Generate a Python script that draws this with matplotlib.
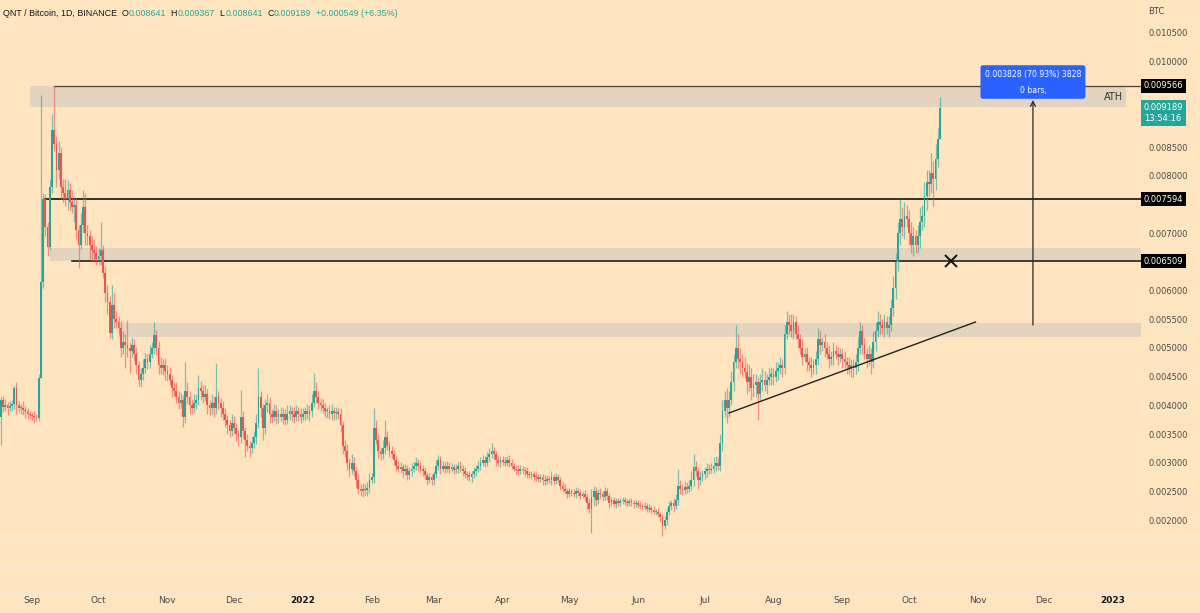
import numpy as np
import pandas as pd
import matplotlib
matplotlib.use("Agg")
import matplotlib.pyplot as plt
import matplotlib.dates as mdates
from matplotlib.lines import Line2D
from matplotlib.ticker import FixedLocator, FuncFormatter

plt.rcParams['font.family'] = ['DejaVu Sans']

# ---------------- data (prices in 1e-6 BTC) ----------------
start_date = '2021-08-18'
open_first = 3790

close_aug21 = [4090, 3980, 4000, 3960, 3990, 4020, 4300, 4000, 3950, 3960, 3920, 3900, 3850, 3830]
close_sep21 = [3820, 3800, 3780, 4480, 6150, 7600, 7100, 6760, 7800, 8800, 8550, 8100, 8400, 7800, 7700,
               7600, 7750, 7550, 7450, 7500, 7050, 6800, 7150, 7450, 7000, 6950, 6800, 6700, 6650, 6550]
close_oct21 = [6600, 6700, 6300, 5950, 5800, 5260, 5750, 5500, 5450, 5350, 5000, 5100, 5050, 5000, 4950,
               5050, 4900, 4700, 4440, 4550, 4650, 4800, 4750, 4900, 5000, 5220, 5000, 4700, 4650, 4700, 4600]
close_nov21 = [4550, 4450, 4300, 4250, 4150, 4050, 4100, 3800, 4250, 4150, 4000, 3950, 4050, 4100, 4300,
               4250, 4150, 4200, 4000, 3950, 4050, 3950, 4150, 4050, 3950, 3850, 3750, 3650, 3550, 3700]
close_dec21 = [3600, 3500, 3450, 3800, 3550, 3400, 3300, 3250, 3350, 3450, 3700, 4150, 3950, 3600, 4000,
               4050, 3850, 3800, 3900, 3800, 3850, 3800, 3850, 3750, 3850, 3900, 3850, 3800, 3900, 3850, 3800]
close_jan22 = [3850, 3900, 3850, 3900, 4050, 4250, 4150, 4050, 4000, 3950, 3900, 3900, 3850, 3900, 3870,
               3880, 3850, 3650, 3300, 3200, 3000, 2900, 3000, 2850, 2700, 2550, 2500, 2550, 2520, 2560, 2700]
close_feb22 = [2750, 3600, 3400, 3200, 3150, 3250, 3450, 3300, 3200, 3150, 3050, 2950, 2900, 2920, 2850,
               2900, 2780, 2850, 2900, 2950, 3000, 2950, 2900, 2850, 2780, 2700, 2750, 2700]
close_mar22 = [2800, 2950, 3050, 2900, 2950, 2900, 2950, 2900, 2920, 2880, 2900, 2950, 2900, 2850, 2800,
               2780, 2750, 2800, 2850, 2900, 2950, 3000, 3050, 3000, 3100, 3150, 3200, 3150, 3050, 3000, 3050]
close_apr22 = [3020, 3000, 3050, 3000, 2950, 2900, 2880, 2850, 2900, 2870, 2850, 2800, 2780, 2800, 2760,
               2750, 2720, 2750, 2700, 2680, 2720, 2700, 2750, 2680, 2750, 2700, 2600, 2550, 2500, 2450]
close_may22 = [2500, 2480, 2450, 2500, 2470, 2430, 2450, 2400, 2300, 2200, 2400, 2500, 2350, 2480, 2450,
               2400, 2500, 2420, 2300, 2350, 2280, 2330, 2300, 2330, 2350, 2320, 2300, 2330, 2300, 2280, 2300]
close_jun22 = [2270, 2250, 2230, 2250, 2200, 2220, 2180, 2150, 2150, 2100, 2050, 1900, 2000, 2150, 2250,
               2300, 2250, 2350, 2600, 2550, 2520, 2580, 2550, 2600, 2700, 2930, 2850, 2700, 2750, 2800]
close_jul22 = [2850, 2900, 2880, 2900, 2950, 3000, 2950, 3350, 3900, 4100, 3950, 4100, 4400, 4750, 5000,
               4800, 4750, 4650, 4580, 4400, 4500, 4300, 4350, 4400, 4200, 4400, 4450, 4350, 4450, 4500, 4550]
close_aug22 = [4500, 4600, 4650, 4700, 4650, 5250, 5450, 5400, 5300, 5450, 5250, 5150, 5000, 4850, 4900,
               4750, 4700, 4650, 4700, 4800, 5150, 5050, 5100, 5000, 4900, 4800, 4850, 4950, 4900, 4850, 4900]
close_sep22 = [4800, 4750, 4700, 4650, 4700, 4650, 4750, 5000, 5300, 5050, 4900, 4800, 4900, 4750, 5100,
               5300, 5450, 5400, 5350, 5450, 5350, 5400, 5700, 6050, 6500, 7000, 7250, 7100, 7300, 7250]
close_oct22 = [7000, 6800, 6950, 6800, 6950, 7200, 7300, 7650, 7900, 7850, 8050, 7950, 8300, 8641, 9189]

hi_aug21 = [60, 80, 120, 60, 90, 70, 40, 100, 80, 60, 120, 70, 50, 60]
hi_sep21 = [60, 80, 50, 60, 3250, 100, 80, 100, 150, 280, 766, 150, 200, 100, 150,
            250, 180, 120, 200, 150, 120, 100, 200, 300, 250, 150, 100, 150, 200, 120]
hi_oct21 = [150, 500, 100, 120, 150, 100, 340, 200, 150, 100, 120, 200, 150, 430, 100,
            150, 100, 120, 80, 100, 150, 120, 100, 150, 100, 230, 100, 120, 150, 100, 120]
hi_nov21 = [100, 120, 80, 100, 150, 100, 120, 80, 500, 150, 100, 120, 150, 100, 230,
            120, 100, 150, 80, 100, 150, 120, 590, 100, 80, 120, 100, 80, 100, 150]
hi_dec21 = [120, 100, 80, 470, 100, 80, 100, 80, 120, 100, 150, 500, 100, 80, 120,
            150, 100, 80, 120, 100, 80, 120, 100, 80, 150, 100, 80, 120, 100, 80, 100]
hi_jan22 = [100, 80, 120, 100, 150, 310, 150, 100, 80, 120, 100, 80, 100, 120, 80,
            100, 80, 100, 80, 100, 120, 80, 150, 100, 80, 100, 80, 100, 80, 100, 120]
hi_feb22 = [80, 350, 150, 100, 80, 150, 300, 100, 80, 100, 80, 60, 80, 100, 60,
            80, 60, 80, 100, 80, 100, 60, 80, 60, 80, 60, 80, 60]
hi_mar22 = [60, 100, 80, 60, 80, 60, 80, 60, 80, 60, 80, 60, 80, 60, 80,
            60, 80, 60, 80, 60, 80, 100, 80, 60, 80, 100, 150, 80, 60, 80, 60]
hi_apr22 = [60, 80, 60, 80, 60, 50, 60, 80, 60, 50, 60, 80, 60, 50, 60,
            80, 60, 50, 60, 80, 60, 50, 100, 60, 80, 60, 50, 60, 80, 60]
hi_may22 = [60, 50, 60, 80, 60, 50, 60, 80, 60, 80, 150, 100, 80, 60, 80,
            60, 80, 60, 50, 60, 50, 60, 50, 60, 50, 60, 50, 60, 50, 60, 50]
hi_jun22 = [50, 60, 50, 60, 50, 60, 50, 60, 50, 60, 50, 60, 80, 60, 80,
            60, 80, 100, 300, 100, 80, 100, 80, 100, 150, 220, 100, 80, 100, 80]
hi_jul22 = [80, 100, 80, 100, 150, 120, 100, 150, 200, 150, 200, 150, 200, 150, 400,
            250, 200, 150, 200, 150, 200, 150, 200, 150, 100, 150, 200, 150, 100, 150, 120]
hi_aug22 = [100, 150, 100, 150, 100, 150, 200, 150, 200, 150, 100, 150, 100, 150, 100,
            120, 100, 150, 100, 150, 200, 150, 100, 150, 100, 150, 100, 150, 100, 120, 100]
hi_sep22 = [100, 150, 100, 150, 100, 100, 150, 200, 150, 100, 150, 100, 150, 100, 200,
            150, 200, 150, 100, 150, 100, 150, 150, 200, 150, 200, 350, 200, 250, 200]
hi_oct22 = [150, 200, 150, 100, 200, 250, 200, 250, 200, 200, 350, 200, 250, 200, 178]

lo_aug21 = [480, 100, 80, 120, 60, 90, 80, 150, 60, 100, 80, 120, 90, 70]
lo_sep21 = [80, 100, 60, 50, 0, 100, 150, 160, 50, 100, 120, 300, 150, 200, 150,
            120, 200, 150, 100, 250, 150, 400, 80, 150, 200, 150, 250, 200, 150, 100]
lo_oct21 = [100, 150, 80, 150, 200, 80, 100, 150, 100, 120, 150, 100, 400, 150, 390,
            100, 120, 150, 100, 120, 100, 80, 120, 100, 80, 100, 120, 150, 100, 120, 150]
lo_nov21 = [120, 100, 150, 80, 100, 120, 100, 180, 100, 120, 150, 100, 80, 120, 100,
            150, 100, 80, 150, 120, 100, 150, 100, 120, 150, 100, 120, 150, 100, 80]
lo_dec21 = [100, 120, 150, 100, 120, 300, 100, 150, 80, 100, 120, 100, 150, 200, 100,
            120, 150, 100, 80, 120, 100, 80, 120, 100, 80, 100, 120, 100, 80, 120, 100]
lo_jan22 = [80, 100, 80, 120, 100, 80, 100, 120, 100, 80, 100, 120, 80, 100, 120,
            100, 80, 120, 150, 100, 120, 150, 100, 80, 120, 100, 80, 100, 80, 100, 80]
lo_feb22 = [60, 100, 80, 120, 100, 80, 100, 80, 100, 60, 80, 100, 60, 80, 100,
            60, 80, 60, 80, 60, 80, 100, 60, 80, 60, 80, 60, 80]
lo_mar22 = [80, 60, 80, 100, 60, 80, 60, 80, 60, 80, 60, 80, 60, 80, 60,
            80, 60, 80, 60, 80, 60, 80, 60, 80, 60, 80, 60, 80, 100, 60, 80]
lo_apr22 = [60, 50, 60, 80, 60, 50, 80, 60, 50, 60, 80, 60, 50, 60, 80,
            60, 50, 60, 80, 60, 50, 60, 80, 60, 50, 60, 80, 60, 50, 60]
lo_may22 = [50, 60, 50, 60, 50, 60, 50, 60, 100, 80, 420, 150, 100, 60, 80,
            60, 50, 60, 80, 60, 50, 60, 50, 60, 50, 60, 50, 60, 50, 60, 50]
lo_jun22 = [60, 50, 60, 50, 60, 50, 60, 50, 60, 50, 80, 180, 60, 80, 60,
            80, 100, 60, 80, 100, 80, 60, 80, 60, 80, 100, 80, 150, 80, 60]
lo_jul22 = [80, 100, 80, 60, 80, 100, 80, 100, 150, 100, 250, 150, 100, 150, 100,
            150, 200, 150, 100, 200, 150, 200, 150, 200, 450, 100, 150, 100, 150, 100, 150]
lo_aug22 = [150, 100, 150, 100, 150, 100, 100, 150, 100, 150, 100, 150, 100, 150, 100,
            150, 100, 150, 100, 150, 100, 150, 100, 150, 100, 150, 100, 150, 100, 150, 100]
lo_sep22 = [150, 100, 150, 100, 150, 150, 100, 150, 100, 150, 100, 150, 100, 200, 100,
            150, 100, 150, 100, 150, 100, 150, 100, 150, 200, 150, 200, 150, 200, 150]
lo_oct22 = [200, 150, 200, 150, 150, 200, 150, 200, 250, 200, 150, 470, 200, 150, 0]

closes_e6 = (close_aug21 + close_sep21 + close_oct21 + close_nov21 + close_dec21 + close_jan22 +
             close_feb22 + close_mar22 + close_apr22 + close_may22 + close_jun22 + close_jul22 +
             close_aug22 + close_sep22 + close_oct22)
wick_hi_e6 = (hi_aug21 + hi_sep21 + hi_oct21 + hi_nov21 + hi_dec21 + hi_jan22 + hi_feb22 + hi_mar22 +
              hi_apr22 + hi_may22 + hi_jun22 + hi_jul22 + hi_aug22 + hi_sep22 + hi_oct22)
wick_lo_e6 = (lo_aug21 + lo_sep21 + lo_oct21 + lo_nov21 + lo_dec21 + lo_jan22 + lo_feb22 + lo_mar22 +
              lo_apr22 + lo_may22 + lo_jun22 + lo_jul22 + lo_aug22 + lo_sep22 + lo_oct22)

# drawings on the chart
ath_level = 0.009566
level_mid = 0.007594
level_low = 0.006509
zone_ath = ('2021-08-31', '2023-01-07', 0.009200, 0.009566)
zone_mid = ('2021-09-09', '2023-02-01', 0.006509, 0.006742)
zone_low = ('2021-10-10', '2023-02-01', 0.005192, 0.005436)
line_ath_start = '2021-09-11'
line_mid_start = '2021-09-07'
line_low_start = '2021-09-19'
trend_pts = (('2022-07-12', 0.003868), ('2022-10-31', 0.005453))
x_mark = ('2022-10-19 19:00', 0.006509)
measure_date = '2022-11-25 21:00'
measure_from, measure_to = 0.005400, 0.009320
measure_text = '0.003828 (70.93%) 3828\n0 bars,'
last_price = 0.009189
countdown = '13:54:16'
# scale labels that are not hidden behind the price labels
yticks = [0.0020, 0.0025, 0.0030, 0.0035, 0.0040, 0.0045, 0.0050, 0.0055, 0.0060,
          0.0070, 0.0080, 0.0085, 0.0100, 0.0105]
header_parts = [('QNT / Bitcoin, 1D, BINANCE  ', 'dark'), ('O', 'dark'), ('0.008641', 'up'),
                ('  H', 'dark'), ('0.009367', 'up'), ('  L', 'dark'), ('0.008641', 'up'),
                ('  C', 'dark'), ('0.009189', 'up'), ('  +0.000549 (+6.35%)', 'up')]

# ---------------- build OHLC ----------------
dates = pd.date_range(start_date, periods=len(closes_e6), freq='D')
close = np.array(closes_e6, float) / 1e6
opens = np.concatenate([[open_first / 1e6], close[:-1]])
high = np.maximum(opens, close) + np.array(wick_hi_e6, float) / 1e6
low = np.minimum(opens, close) - np.array(wick_lo_e6, float) / 1e6
xd = mdates.date2num(dates)

BG = '#FFE5BF'
UP = '#26A69A'
DN = '#EF5350'
ZONE = '#E2D4BE'
DARK = '#131722'
HEAD_FONT = ['Liberation Sans', 'DejaVu Sans']

W, H = 1200, 613
fig = plt.figure(figsize=(W / 100, H / 100), dpi=100, facecolor=BG)
ax = fig.add_axes([0, 1 - 540 / H, 1140 / W, 540 / H])
ax.set_facecolor(BG)
for s in ax.spines.values():
    s.set_visible(False)

t0 = mdates.date2num(pd.Timestamp(start_date))
ax.set_xlim(t0 - 0.405, t0 + 513.1)
ax.set_ylim(0.001655, 0.0110628)

d = lambda s: mdates.date2num(pd.Timestamp(s))

# zones
for z in (zone_ath, zone_mid, zone_low):
    ax.fill_between([d(z[0]), d(z[1])], z[2], z[3], color=ZONE, lw=0, zorder=1)

# horizontal levels
xr = ax.get_xlim()[1] + 5
ax.plot([d(line_ath_start), xr], [ath_level] * 2, color='#4a4136', lw=0.9, zorder=2, clip_on=False)
ax.plot([d(line_mid_start), xr], [level_mid] * 2, color='#111111', lw=1.2, zorder=2, clip_on=False)
ax.plot([d(line_low_start), xr], [level_low] * 2, color='#111111', lw=1.1, zorder=2, clip_on=False)

# candles
up = close >= opens
cols = np.where(up, UP, DN)
ax.vlines(xd, low, high, colors=cols, lw=0.9, alpha=0.6, zorder=3)
body_h = np.maximum(np.abs(close - opens), 0.000018)
ax.bar(xd, body_h, bottom=np.minimum(opens, close), width=0.8, color=cols, lw=0, zorder=4)

# trend line
ax.plot([d(trend_pts[0][0]), d(trend_pts[1][0])], [trend_pts[0][1], trend_pts[1][1]],
        color='#222222', lw=1.0, zorder=5)

# X mark
ax.plot([d(x_mark[0])], [x_mark[1]], marker='x', ms=9, mew=1.4, color='#111111', zorder=6)

# measure arrow
ax.annotate('', xy=(d(measure_date), measure_to), xytext=(d(measure_date), measure_from),
            arrowprops=dict(arrowstyle='->', color='#2a2a2a', lw=0.9, shrinkA=0, shrinkB=0,
                            mutation_scale=9), zorder=6)
ax.text(d(measure_date), 0.009634, measure_text, color='white', fontsize=5.6, ha='center',
        va='center', linespacing=2.0, zorder=8,
        bbox=dict(boxstyle='round,pad=0.55,rounding_size=0.3', fc='#2962FF', ec='none'))

ax.text(d('2023-01-01'), 0.009373, 'ATH', fontsize=7, color='#333333', ha='center', va='center',
        zorder=7)

# y axis on the right
ax.yaxis.tick_right()
ax.yaxis.set_major_locator(FixedLocator(yticks))
ax.yaxis.set_major_formatter(FuncFormatter(lambda v, p: f'{v:.6f}'))
ax.tick_params(axis='y', length=0, pad=6, labelsize=6, labelcolor='#4a4a4a')

# x axis (time scale)
months = pd.date_range('2021-09-01', '2023-01-01', freq='MS')
ax.xaxis.set_major_locator(FixedLocator(mdates.date2num(months)))
ax.xaxis.set_major_formatter(FuncFormatter(
    lambda v, p: (mdates.num2date(v).strftime('%Y') if mdates.num2date(v).month == 1
                  else mdates.num2date(v).strftime('%b'))))
ax.tick_params(axis='x', length=0, pad=40, labelsize=6.5, labelcolor='#4a4a4a')
for lab in ax.get_xticklabels():
    if lab.get_text().isdigit():
        lab.set_color(DARK)
        lab.set_fontweight('bold')
ax.grid(False)

# price labels on the scale
yt = ax.get_yaxis_transform()
for lvl in (ath_level, level_mid, level_low):
    ax.text(1.0035, lvl, f'{lvl:.6f}', transform=yt, color='white', fontsize=6, ha='left',
            va='center', zorder=10, clip_on=False,
            bbox=dict(boxstyle='square,pad=0.3', fc='black', ec='none'))
ax.text(1.0035, last_price + 0.00008, f'{last_price:.6f}\n{countdown}', transform=yt, color='white',
        fontsize=6, ha='left', va='top', linespacing=1.35, zorder=10, clip_on=False,
        bbox=dict(boxstyle='square,pad=0.35', fc=UP, ec='none'))
ax.text(1.0075, 1 - 12 / 540, 'BTC', transform=ax.transAxes, fontsize=6, color='#4a4a4a',
        ha='left', va='center', clip_on=False)

# pane separators
for yy in (540, 566, 592):
    fig.add_artist(Line2D([0, 1], [1 - yy / H] * 2, transform=fig.transFigure, color='#F4E8D8',
                          lw=1.2))

# header (legend)
colmap = {'dark': DARK, 'up': UP}
prev = ax.text(3 / 1140, 1 - 13 / 540, header_parts[0][0], transform=ax.transAxes, fontsize=6.4,
               color=colmap[header_parts[0][1]], ha='left', va='center', family=HEAD_FONT)
for txt, c in header_parts[1:]:
    prev = ax.annotate(txt, xy=(1, 0.5), xycoords=prev, fontsize=6.4, color=colmap[c],
                       ha='left', va='center', annotation_clip=False, family=HEAD_FONT)

fig.savefig('out.png', dpi=100, facecolor=BG)
